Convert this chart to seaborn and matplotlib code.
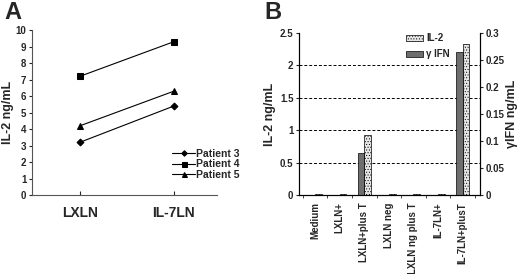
import pandas as pd
import numpy as np
import matplotlib
matplotlib.use("Agg")
import matplotlib.pyplot as plt
import seaborn as sns
from matplotlib.patches import Patch

# panel A data
sites = ["LXLN", "IL-7LN"]
patients = ["Patient 3", "Patient 4", "Patient 5"]
il2_patient3 = [3.2, 5.4]
il2_patient4 = [7.2, 9.3]
il2_patient5 = [4.2, 6.3]

# panel B data
conditions = ["Medium", "LXLN+", "LXLN+plus T", "LXLN neg",
              "LXLN ng plus T", "IL-7LN+", "IL-7LN+plusT"]
il2_values = [0.01, 0.01, 0.92, 0.01, 0.01, 0.01, 2.33]
ifn_values = [0.001, 0.001, 0.078, 0.001, 0.001, 0.001, 0.264]

sns.set_style("white")
plt.rcParams["font.family"] = ["Liberation Sans", "DejaVu Sans"]
plt.rcParams["hatch.linewidth"] = 0.4

fig = plt.figure(figsize=(5.2, 2.74), dpi=100)
axA = fig.add_axes([0.0615, 0.288, 0.356, 0.602])
axB = fig.add_axes([0.575, 0.288, 0.348, 0.592])

# ---- panel A
dfA = pd.DataFrame({
    "site": sites * 3,
    "value": il2_patient3 + il2_patient4 + il2_patient5,
    "patient": [p for p in patients for _ in sites],
})
sns.lineplot(data=dfA, x="site", y="value", hue="patient", style="patient",
             markers=["D", "s", "^"], dashes=False, palette=["black"] * 3,
             markersize=4.5, linewidth=0.8, markeredgecolor="black", ax=axA)
for line in axA.lines:
    if line.get_marker() == "D":
        line.set_markersize(3.5)
axA.set_xlim(-0.51, 1.46)
axA.set_ylim(0, 10)
axA.set_yticks(range(0, 11))
axA.set_xlabel("")
axA.set_ylabel("IL-2 ng/mL", fontsize=9, fontweight="bold", labelpad=1)
for s in ["top", "right"]:
    axA.spines[s].set_visible(False)
for s in ["left", "bottom"]:
    axA.spines[s].set_color("#555555")
    axA.spines[s].set_linewidth(0.8)
axA.tick_params(axis="y", labelsize=7, length=2, pad=2, left=True, direction="out")
axA.tick_params(axis="x", labelsize=10, length=3, pad=8, bottom=True, direction="in")
for lab in axA.get_xticklabels() + axA.get_yticklabels():
    lab.set_fontweight("bold")
leg = axA.legend(loc="lower right", bbox_to_anchor=(1.15, 0.06), frameon=False,
                 fontsize=7.5, handlelength=2.2, handletextpad=0.1,
                 labelspacing=0.05, borderpad=0, markerscale=0.8)
for t in leg.get_texts():
    t.set_fontweight("bold")
fig.text(0.008, 0.995, "A", fontsize=17, fontweight="bold", va="top")

# ---- panel B
hue_order = ["γ IFN", "IL-2"]
pal = {"γ IFN": "#6e6e6e", "IL-2": "#e6e6e6"}
kinds = ["IL-2"] * len(conditions) + ["γ IFN"] * len(conditions)
# IL-2 on left axis, gamma IFN on right axis; the other series is left empty
dfB_il2 = pd.DataFrame({
    "condition": conditions * 2,
    "value": il2_values + [np.nan] * len(conditions),
    "kind": kinds,
})
dfB_ifn = pd.DataFrame({
    "condition": conditions * 2,
    "value": [np.nan] * len(conditions) + ifn_values,
    "kind": kinds,
})
sns.barplot(data=dfB_il2, x="condition", y="value", hue="kind",
            hue_order=hue_order, order=conditions, palette=pal, width=0.54,
            edgecolor="black", linewidth=0.5, hatch="......", legend=False,
            errorbar=None, ax=axB)
axB2 = axB.twinx()
sns.barplot(data=dfB_ifn, x="condition", y="value", hue="kind",
            hue_order=hue_order, order=conditions, palette=pal, width=0.54,
            edgecolor="black", linewidth=0.5, legend=False,
            errorbar=None, ax=axB2)
for ax in (axB, axB2):
    ax.set_xlim(-0.65, 6.7)
    ax.set_xlabel("")
axB.set_ylim(0, 2.5)
axB2.set_ylim(0, 0.3)
axB.set_yticks([0, 0.5, 1, 1.5, 2, 2.5])
axB.set_yticklabels(["0", "0.5", "1", "1.5", "2", "2.5"])
axB2.set_yticks([0, 0.05, 0.1, 0.15, 0.2, 0.25, 0.3])
axB2.set_yticklabels(["0", "0.05", "0.1", "0.15", "0.2", "0.25", "0.3"])
for y in [0.5, 1, 1.5, 2]:
    axB.axhline(y, color="black", linestyle=(0, (3, 2)), linewidth=0.7, zorder=0)
axB.set_ylabel("IL-2 ng/mL", fontsize=9, fontweight="bold", labelpad=3)
axB2.set_ylabel("γIFN ng/mL", fontsize=9, fontweight="bold", labelpad=1)
axB.set_xticks(range(len(conditions)))
axB.set_xticklabels(conditions, rotation=90, fontsize=7, fontweight="bold")
axB.set_xticks(np.arange(-0.5, 6.6, 1), minor=True)
axB.tick_params(axis="x", which="major", length=0, pad=5)
axB.tick_params(axis="x", which="minor", length=2, bottom=True, direction="out")
axB.tick_params(axis="y", labelsize=7, length=2, left=True, pad=2)
axB2.tick_params(axis="y", labelsize=7, length=2, right=True, pad=2)
for lab in axB.get_yticklabels() + axB2.get_yticklabels():
    lab.set_fontweight("bold")
for ax in (axB, axB2):
    ax.spines["top"].set_visible(False)
    for s in ["left", "right", "bottom"]:
        ax.spines[s].set_color("black")
        ax.spines[s].set_linewidth(0.8)
handles = [Patch(facecolor="#e6e6e6", edgecolor="black", hatch="......", linewidth=0.5),
           Patch(facecolor="#6e6e6e", edgecolor="black", linewidth=0.5)]
legB = axB2.legend(handles, ["IL-2", "γ IFN"], loc="upper right",
                   bbox_to_anchor=(0.87, 1.04), frameon=False, fontsize=7,
                   handlelength=1.8, handleheight=0.6, handletextpad=0.3,
                   labelspacing=0.6, borderpad=0.2)
for t in legB.get_texts():
    t.set_fontweight("bold")
fig.text(0.508, 0.995, "B", fontsize=17, fontweight="bold", va="top")

fig.savefig("out.png", dpi=100)
